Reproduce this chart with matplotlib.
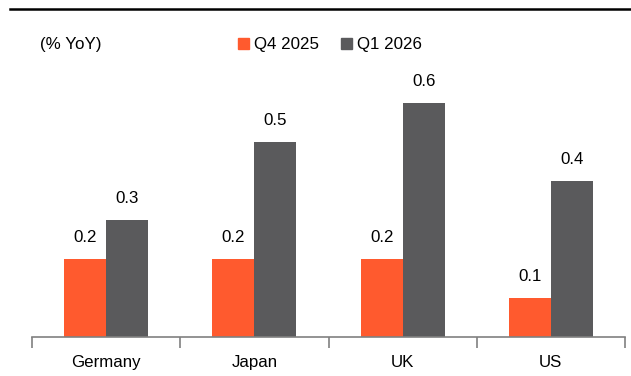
import matplotlib
matplotlib.use("Agg")
import matplotlib.pyplot as plt
from matplotlib.lines import Line2D
from matplotlib.patches import Rectangle
import numpy as np

categories = ["Germany", "Japan", "UK", "US"]
q4_2025 = [0.2, 0.2, 0.2, 0.1]
q1_2026 = [0.3, 0.5, 0.6, 0.4]
series_names = ["Q4 2025", "Q1 2026"]
unit_label = "(% YoY)"

orange = "#FF5A2E"
gray = "#5A5A5C"

plt.rcParams['font.family'] = ['Liberation Sans', 'DejaVu Sans']
FS = 12.2

fig = plt.figure(figsize=(6.31, 3.76), dpi=100)
ax = fig.add_axes([32/631, 1-337/376, 593/631, 312/376])

x = np.arange(len(categories))
w = 0.283
b1 = ax.bar(x - w/2, q4_2025, w, color=orange, label=series_names[0])
b2 = ax.bar(x + w/2, q1_2026, w, color=gray, label=series_names[1])

for bars, vals in ((b1, q4_2025), (b2, q1_2026)):
    for r, v in zip(bars, vals):
        ax.annotate(f"{v:.1f}", (r.get_x() + r.get_width()/2, v),
                    xytext=(0, 10), textcoords="offset points",
                    ha="center", va="bottom", fontsize=FS, color="black")

ax.set_xlim(-0.5, 3.5)
ax.set_ylim(0, 0.8)
ax.set_yticks([])
for s in ("left", "right", "top"):
    ax.spines[s].set_visible(False)
ax.spines["bottom"].set_color("#808080")
ax.spines["bottom"].set_linewidth(1.2)

ax.set_xticks(x)
ax.set_xticklabels(categories, fontsize=FS)
ax.tick_params(axis="x", length=0, pad=13)
ax.set_xticks(np.arange(-0.5, 4.0, 1.0), minor=True)
ax.tick_params(axis="x", which="minor", length=8, width=1.2, color="#808080", direction="out")

# top rule
fig.add_artist(Line2D([10/631, 1.0], [1-9/376, 1-9/376], color="black", lw=1.8,
                      transform=fig.transFigure))

fig.text(40/631, 1-45/376, unit_label, fontsize=FS, va="center", ha="left")

handles = [Rectangle((0, 0), 1, 1, color=orange), Rectangle((0, 0), 1, 1, color=gray)]
fig.legend(handles, series_names, loc="center left", bbox_to_anchor=(238/631, 1-45/376),
           ncol=2, frameon=False, fontsize=FS, handlelength=0.65, handleheight=0.65,
           handletextpad=0.3, columnspacing=1.3, borderpad=0, borderaxespad=0)

fig.savefig("out.png", dpi=100)
